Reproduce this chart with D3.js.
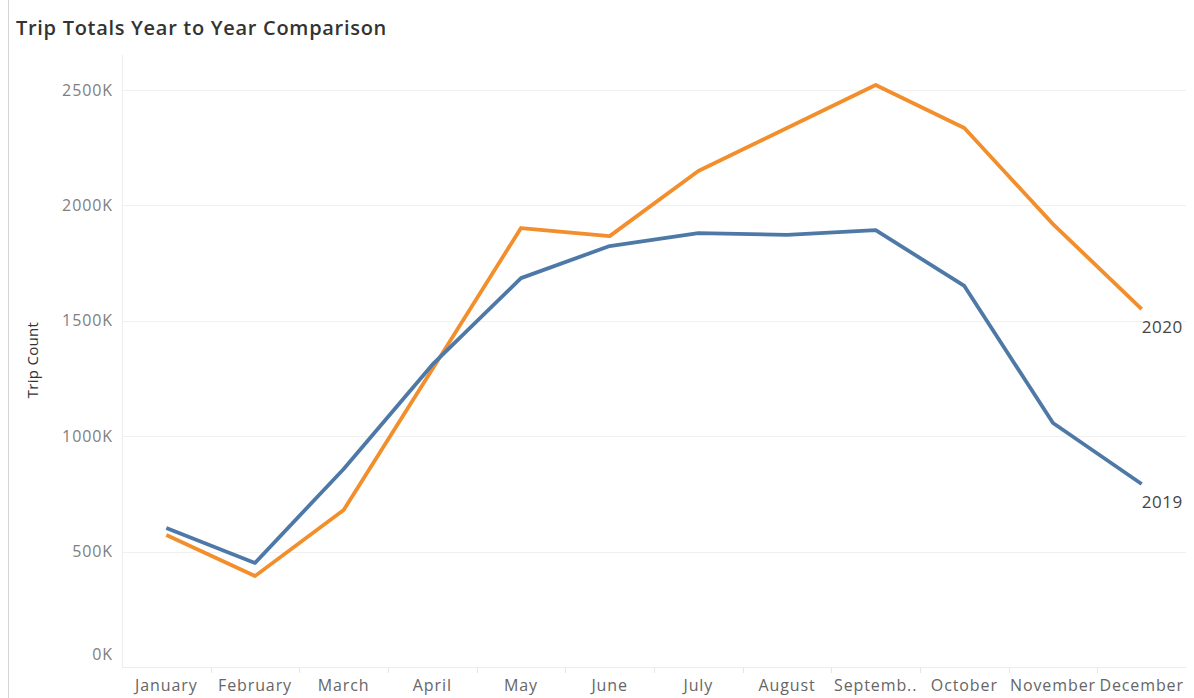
<!DOCTYPE html>
<html>
<head>
<meta charset="utf-8">
<script src="https://cdn.jsdelivr.net/npm/d3@7"></script>
<style>
body { margin: 0; background: #fff; }
text { font-family: "Open Sans", "Noto Sans", sans-serif; }
</style>
</head>
<body>
<script>
// months and trip totals
var months = ["January", "February", "March", "April", "May", "June", "July",
              "August", "Septemb..", "October", "November", "December"];
var trips2019 = [602000, 451000, 858000, 1310000, 1685000, 1824000, 1880000, 1872000, 1893000, 1651000, 1057000, 793000];
var trips2020 = [572000, 394000, 680000, 1290000, 1902000, 1867000, 2149000, 2335000, 2522000, 2335000, 1919000, 1551000];
var yTicks = [0, 500000, 1000000, 1500000, 2000000, 2500000];

var width = 1194, height = 698;
var plotLeft = 122, plotRight = 1186, plotTop = 90, plotBottom = 667;

var svg = d3.select("body").append("svg")
    .attr("width", width)
    .attr("height", height);

//__frame line on the left of the sheet__//
svg.append("line")
    .attr("x1", 8.5).attr("x2", 8.5).attr("y1", 0).attr("y2", height)
    .attr("stroke", "#d4d4d4").attr("stroke-width", 1);

svg.append("text")
    .attr("x", 16).attr("y", 35)
    .attr("font-size", 20).attr("font-weight", 600)
    .attr("letter-spacing", 0.7)
    .attr("fill", "#333")
    .text("Trip Totals Year to Year Comparison");

var x = d3.scaleBand().domain(months).range([plotLeft, plotRight]);
var y = d3.scaleLinear().domain([0, 2500000]).range([plotBottom, plotTop]);

//__gridlines__//
svg.append("g").selectAll("line")
    .data(yTicks.filter(d => d > 0))
    .enter().append("line")
    .attr("x1", plotLeft).attr("x2", plotRight)
    .attr("y1", d => Math.round(y(d)) + 0.5).attr("y2", d => Math.round(y(d)) + 0.5)
    .attr("stroke", "#f0f0f0");

// plot area left edge and bottom edge
svg.append("line")
    .attr("x1", plotLeft + 0.5).attr("x2", plotLeft + 0.5).attr("y1", 55).attr("y2", plotBottom)
    .attr("stroke", "#ececec");
svg.append("line")
    .attr("x1", plotLeft).attr("x2", plotRight).attr("y1", plotBottom + 0.5).attr("y2", plotBottom + 0.5)
    .attr("stroke", "#ececec");

// little separators between months
svg.append("g").selectAll("line")
    .data(months.slice(1))
    .enter().append("line")
    .attr("x1", d => Math.round(x(d)) + 0.5).attr("x2", d => Math.round(x(d)) + 0.5)
    .attr("y1", plotBottom).attr("y2", plotBottom + 6)
    .attr("stroke", "#e6e6e6");

//__y axis labels__//
svg.append("g").selectAll("text")
    .data(yTicks)
    .enter().append("text")
    .attr("x", 113)
    .attr("y", d => d === 0 ? y(d) - 13 : y(d))
    .attr("dy", "0.35em")
    .attr("text-anchor", "end")
    .attr("font-size", 16).attr("letter-spacing", 0.9)
    .attr("fill", "#808080")
    .text(d => (d / 1000) + "K");

svg.append("text")
    .attr("transform", "translate(38,360) rotate(-90)")
    .attr("text-anchor", "middle")
    .attr("font-size", 15).attr("letter-spacing", 0.3)
    .attr("fill", "#333")
    .text("Trip Count");

//__x axis labels__//
svg.append("g").selectAll("text")
    .data(months)
    .enter().append("text")
    .attr("x", d => x(d) + x.bandwidth() / 2)
    .attr("y", 691)
    .attr("text-anchor", "middle")
    .attr("font-size", 16).attr("letter-spacing", 0.9)
    .attr("fill", "#666")
    .text(d => d);

//__lines__//
var line = d3.line()
    .x((d, i) => x(months[i]) + x.bandwidth() / 2)
    .y(d => y(d));

var series = [
    {name: "2020", values: trips2020, color: "#f28e2b"},
    {name: "2019", values: trips2019, color: "#4e79a7"}
];

series.forEach(function(s) {
    svg.append("path")
        .datum(s.values)
        .attr("fill", "none")
        .attr("stroke", s.color)
        .attr("stroke-width", 3.8)
        .attr("stroke-linejoin", "round")
        .attr("d", line);

    var last = s.values.length - 1;
    svg.append("text")
        .attr("x", x(months[last]) + x.bandwidth() / 2)
        .attr("y", y(s.values[last]) + 24)
        .attr("font-size", 17).attr("letter-spacing", 0.6)
        .attr("fill", "#444")
        .text(s.name);
});
</script>
</body>
</html>
